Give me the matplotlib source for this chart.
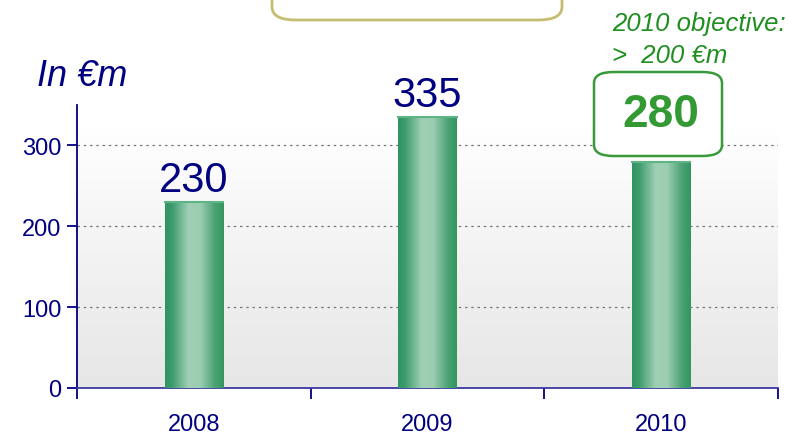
import numpy as np
import matplotlib.pyplot as plt
from matplotlib.colors import LinearSegmentedColormap
from matplotlib.patches import FancyBboxPatch

plt.rcParams['font.family'] = ['Liberation Sans', 'DejaVu Sans']

years = ['2008', '2009', '2010']
values = [230, 335, 280]
yticks = [0, 100, 200, 300]

navy = '#000080'
green_txt = '#1f8f1f'
green_box = '#3a9a3a'

fig = plt.figure(figsize=(7.95, 4.39), dpi=100)
W, H = 795, 439
ax = fig.add_axes([77 / W, (H - 389) / H, (778 - 77) / W, (389 - 106) / H])
ax.set_xlim(-0.5, 2.5)
ax.set_ylim(0, 350)

# background gradient (white at top -> light grey at bottom)
bg = LinearSegmentedColormap.from_list('bg', ['#e6e6e6', '#ffffff'])
grad = np.linspace(0, 1, 256).reshape(-1, 1)
ax.imshow(grad, extent=[-0.5, 2.5, 0, 323], origin='lower', cmap=bg,
          aspect='auto', zorder=0)

# dotted grid
for yv in yticks[1:]:
    ax.axhline(yv, color='#777777', ls=(0, (2, 3)), lw=0.9, zorder=1)

# bars with horizontal gradient
barcm = LinearSegmentedColormap.from_list(
    'bar', [(0, '#2f9462'), (0.12, '#3d9c6c'), (0.4, '#9fcfb5'),
            (0.6, '#9ccdb2'), (0.85, '#4aa274'), (1, '#33965f')])
bw = 0.25
hgrad = np.linspace(0, 1, 256).reshape(1, -1)
for i, v in enumerate(values):
    ax.imshow(hgrad, extent=[i - bw / 2, i + bw / 2, 0, v], cmap=barcm,
              aspect='auto', zorder=3)
    ax.plot([i - bw / 2, i + bw / 2], [v, v], color='#5fb486', lw=1.5, zorder=4)

ax.set_xlim(-0.5, 2.5)
ax.set_ylim(0, 350)

# value labels
for i in range(2):
    ax.text(i, values[i] + 3, str(values[i]), ha='center', va='bottom',
            fontsize=30, color=navy, zorder=5)

# highlighted 2010 value
ax.text(2, 339, str(values[2]), ha='center', va='center',
        fontsize=33, fontweight='bold', color='#339933', zorder=6,
        clip_on=False)
box = FancyBboxPatch((594 / W, (H - 157) / H), 128 / W, 84 / H,
                     boxstyle='round,pad=0,rounding_size=0.025',
                     transform=fig.transFigure, fc='white', ec=green_box,
                     lw=1.8, zorder=5)
ax.add_artist(box)
box.set_clip_on(False)

# axes styling
for s in ['top', 'right']:
    ax.spines[s].set_visible(False)
ax.spines['left'].set_color(navy)
ax.spines['left'].set_linewidth(1.3)
ax.spines['bottom'].set_color('#3a3aa0')
ax.spines['bottom'].set_linewidth(1.3)

ax.set_yticks(yticks)
ax.set_yticklabels([str(t) for t in yticks])
ax.tick_params(axis='y', colors=navy, labelcolor=navy, labelsize=17,
               length=7, width=1.3, pad=4, direction='out')
ax.set_xticks([-0.5, 0.5, 1.5, 2.5])
ax.set_xticklabels([])
ax.set_xticks([0, 1, 2], minor=True)
ax.set_xticklabels(years, minor=True)
ax.tick_params(axis='x', which='major', colors=navy, length=8, width=1.3,
               direction='out')
ax.tick_params(axis='x', which='minor', length=0, labelcolor=navy,
               labelsize=17, pad=18)

# texts in figure coords
fig.text(37 / W, (H - 86) / H, 'In €m', fontsize=26, style='italic',
         color=navy, ha='left', va='baseline')
fig.text(612 / W, (H - 31) / H, '2010 objective:', fontsize=18.5,
         style='italic', color=green_txt, ha='left', va='baseline')
fig.text(612 / W, (H - 63) / H, '>  200 €m', fontsize=18.5,
         style='italic', color=green_txt, ha='left', va='baseline')

# top tan box (cut off at the top)
top = FancyBboxPatch((272 / W, (H - 21) / H), 290 / W, 60 / H,
                     boxstyle='round,pad=0,rounding_size=0.03',
                     transform=fig.transFigure, fc='white', ec='#c5bd70',
                     lw=2)
fig.add_artist(top)

fig.savefig('out.png', dpi=100)
